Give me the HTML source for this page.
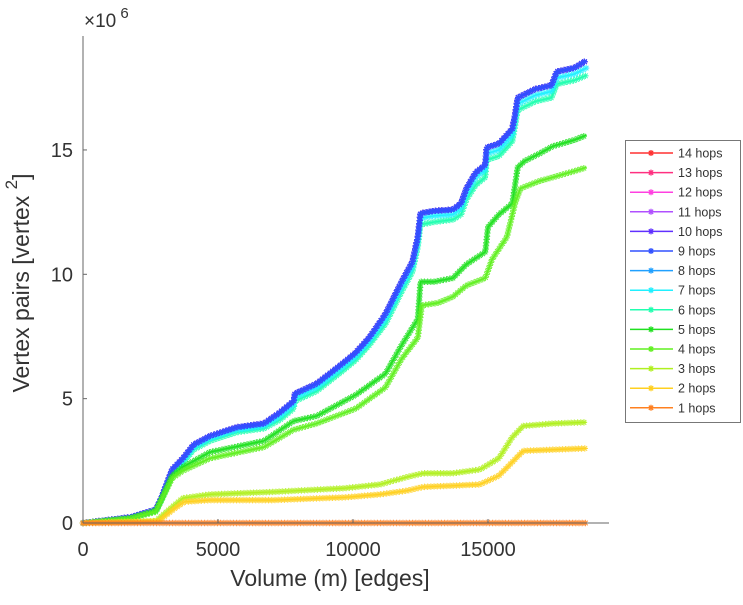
<!DOCTYPE html>
<html><head><meta charset="utf-8"><style>
body{margin:0;background:#fff;font-family:"Liberation Sans",sans-serif}
svg text{font-family:"Liberation Sans",sans-serif;fill:#333}
</style></head><body>
<svg width="743" height="600" viewBox="0 0 743 600">
<g id="plot"></g>
<g id="axes"></g>
<g id="legend"></g>
</svg>
<script>
const xTop=[0,1.75,2.7,2.9,3.3,3.7,4.1,4.7,5.7,6.7,7.3,7.8,7.85,8.65,9.6,10.1,10.6,11.2,11.8,12.2,12.4,12.5,13.0,13.7,14.0,14.2,14.55,14.9,14.95,15.4,15.9,16.0,16.1,16.75,17.35,17.55,18.2,18.65];
const yTop=[0,0.23,0.54,1.0,2.15,2.6,3.15,3.5,3.85,4.0,4.45,4.9,5.2,5.6,6.4,6.85,7.45,8.4,9.7,10.5,11.5,12.45,12.55,12.6,12.85,13.45,14.1,14.4,15.1,15.25,15.85,16.4,17.1,17.45,17.6,18.15,18.3,18.6];
const y7=[0,0.22,0.5,0.95,2.05,2.5,3.05,3.4,3.75,3.9,4.3,4.75,5.05,5.45,6.25,6.7,7.3,8.2,9.5,10.3,11.3,12.25,12.35,12.4,12.65,13.25,13.9,14.2,14.85,15.0,15.6,16.2,16.85,17.2,17.35,17.9,18.05,18.3];
const y6=[0,0.2,0.48,0.9,1.95,2.4,2.95,3.3,3.65,3.8,4.15,4.6,4.9,5.3,6.1,6.55,7.15,8.0,9.3,10.1,11.1,12.0,12.1,12.2,12.4,13.0,13.6,13.9,14.6,14.75,15.35,15.95,16.6,16.95,17.1,17.65,17.8,18.0];
const x5=[0,1.75,2.7,2.9,3.3,3.7,4.7,6.7,7.8,8.65,10.1,11.2,11.8,12.4,12.5,13.0,13.7,14.2,14.9,15.0,15.4,15.9,16.1,16.35,16.9,17.4,18.2,18.65];
const y5=[0,0.2,0.5,0.95,1.9,2.25,2.85,3.3,4.1,4.3,5.15,6.0,7.15,8.2,9.7,9.7,9.85,10.4,10.9,11.9,12.4,12.85,14.3,14.55,14.85,15.15,15.4,15.6];
const x4=[0,1.75,2.7,2.9,3.3,3.7,4.7,6.7,7.8,8.65,10.1,11.2,11.8,12.4,12.55,13.15,13.7,14.2,14.9,15.15,15.7,16.0,16.2,16.9,17.4,18.2,18.65];
const y4=[0,0.18,0.45,0.9,1.8,2.1,2.6,3.05,3.75,4.0,4.6,5.45,6.6,7.45,8.75,8.85,9.1,9.55,9.85,10.6,11.5,12.85,13.45,13.75,13.9,14.15,14.3];
const x3=[0,2.7,3.2,3.7,4.7,7.05,9.7,11.0,12.0,12.6,13.7,14.7,15.4,15.9,16.3,17.4,18.65];
const y3=[0,0.08,0.55,1.0,1.15,1.25,1.4,1.55,1.85,2.0,2.0,2.15,2.6,3.45,3.9,4.0,4.05];
const x2=[0,2.8,3.35,3.75,4.7,7.05,9.7,11.0,12.0,12.6,13.7,14.7,15.4,15.9,16.3,17.4,18.65];
const y2=[0,0.08,0.55,0.85,0.92,0.92,1.03,1.15,1.3,1.45,1.5,1.55,1.9,2.45,2.9,2.95,3.0];
const x1=[0,2,4,6,8,10,12,14,16,18.65];
const y1=[0,0,0,0,0,0,0,0,0,0];
const xTicks=[0,5000,10000,15000];
const yTicks=[0,5,10,15];
const hops=[14,13,12,11,10,9,8,7,6,5,4,3,2,1];
const colors={14:"#ff3030",13:"#ff3080",12:"#ff40e0",11:"#b050ff",10:"#6030ff",9:"#3050ff",8:"#20a0ff",7:"#20f0ff",6:"#20ffb0",5:"#20e020",4:"#60f020",3:"#b0f020",2:"#ffd020",1:"#ff8020"};
const seriesData={14:[xTop,yTop],13:[xTop,yTop],12:[xTop,yTop],11:[xTop,yTop],10:[xTop,yTop],9:[xTop,yTop],8:[xTop,yTop],7:[xTop,y7],6:[xTop,y6],5:[x5,y5],4:[x4,y4],3:[x3,y3],2:[x2,y2],1:[x1,y1]};
const drawOrder=[14,13,12,11,6,7,8,10,9,5,4,3,2,1];

const NS="http://www.w3.org/2000/svg";
const X0=83,XPX=27.0,Y0=523,YPX=24.87;
function sx(k){return X0+k*XPX;}
function sy(m){return Y0-m*YPX;}
function mk(tag,attrs,parent){const e=document.createElementNS(NS,tag);for(const k in attrs)e.setAttribute(k,attrs[k]);parent.appendChild(e);return e;}
function starD(x,y,r){const d=r*0.72;return `M${x-r},${y}h${2*r}M${x},${y-r}v${2*r}M${x-d},${y-d}l${2*d},${2*d}M${x-d},${y+d}l${2*d},${-2*d}`;}
function star(g,x,y,c){mk("path",{d:starD(x,y,3),stroke:c,"stroke-width":1.3,fill:"none"},g);}
const plot=document.getElementById("plot");
drawOrder.forEach(h=>{
  const [xs,ys]=seriesData[h];const c=colors[h];
  const g=mk("g",{},plot);
  
  
  const pts=xs.map((x,i)=>sx(x)+","+sy(ys[i])).join(" ");
  const pl=mk("polyline",{points:pts,fill:"none",stroke:c,"stroke-width":1.2},g);
  // decorative markers sampled along the drawn line
  const L=pl.getTotalLength();let d="";
  for(let s=0;s<=L;s+=3.2){const p=pl.getPointAtLength(s);d+=starD(p.x,p.y,3.2);}
  mk("path",{d:d,stroke:c,"stroke-width":1.1,fill:"none","stroke-opacity":0.85},g);
});
const ax=document.getElementById("axes");
const xl=mk("line",{x1:X0,y1:Y0,x2:609,y2:Y0,stroke:"#666","stroke-width":1},ax);

const yl=mk("line",{x1:X0,y1:Y0,x2:X0,y2:36,stroke:"#666","stroke-width":1},ax);

xTicks.forEach(t=>{
  const x=sx(t/1000);
  mk("line",{x1:x,y1:Y0,x2:x,y2:Y0-4,stroke:"#666"},ax);
  const tx=mk("text",{x:x,y:Y0+33,"font-size":20,"text-anchor":"middle"},ax);
  
  tx.textContent=t;
});
yTicks.forEach(t=>{
  const y=sy(t);
  mk("line",{x1:X0,y1:y,x2:X0+4,y2:y,stroke:"#666"},ax);
  const tx=mk("text",{x:73,y:y+7,"font-size":20,"text-anchor":"end"},ax);
  
  tx.textContent=t;
});
const ex=mk("text",{x:84,y:27,"font-size":19},ax);

ex.innerHTML='×10<tspan dy="-9" font-size="15"> 6</tspan>';
const xt=mk("text",{x:330,y:586,"font-size":23,"text-anchor":"middle"},ax);

xt.textContent="Volume (m) [edges]";
const yt=mk("text",{x:0,y:0,"font-size":23,"text-anchor":"middle",transform:"translate(29,283) rotate(-90)"},ax);

yt.innerHTML='Vertex pairs [vertex <tspan dy="-12" font-size="17">  2</tspan><tspan dy="12">]</tspan>';
const lg=document.getElementById("legend");
mk("rect",{x:625.5,y:140.5,width:115,height:282,fill:"#fff",stroke:"#777","stroke-width":1},lg);
hops.forEach((h,i)=>{
  const y=153+i*19.6;const c=colors[h];
  const g=mk("g",{},lg);
  
  
  mk("line",{x1:630,y1:y,x2:673,y2:y,stroke:c,"stroke-width":1.5},g);
  star(g,651,y,c);
  const t=mk("text",{x:678,y:y+4.5,"font-size":12.5},g);
  t.textContent=h+" hops";
});
</script>
</body></html>
